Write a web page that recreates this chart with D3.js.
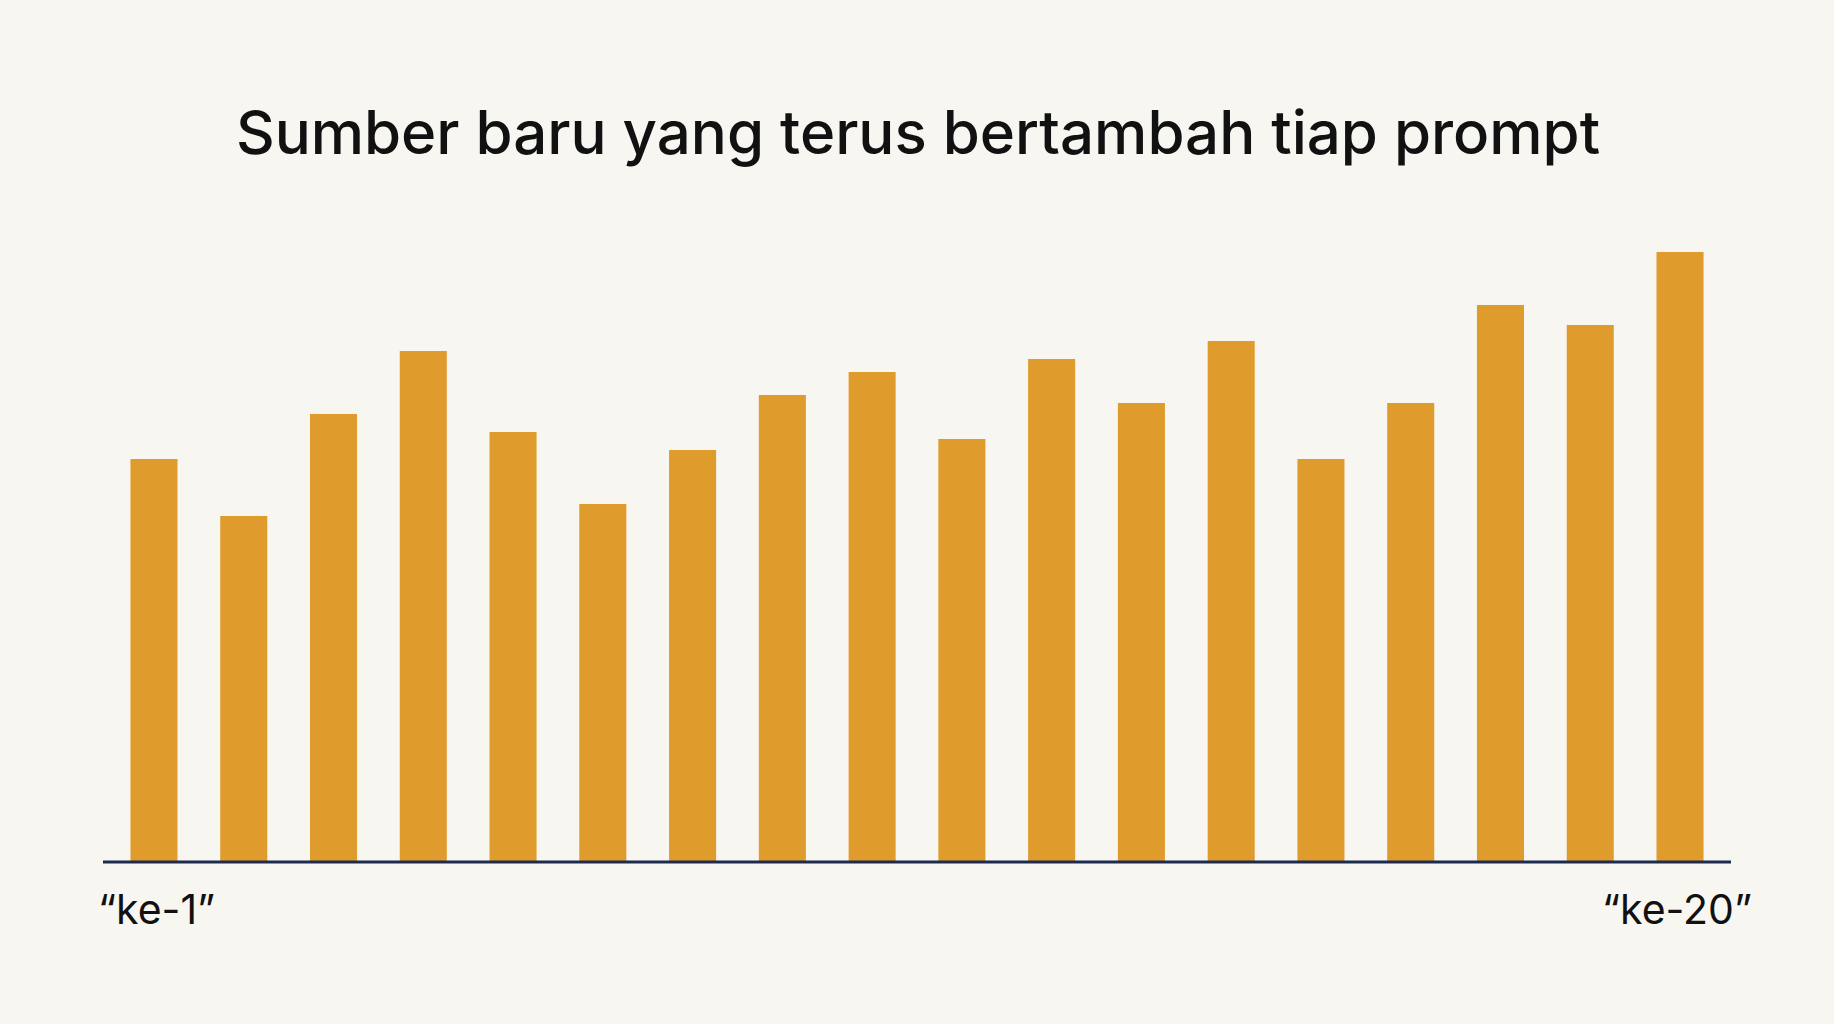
<!DOCTYPE html>
<html>
<head>
<meta charset="utf-8">
<script src="https://cdn.jsdelivr.net/npm/d3@7"></script>
<style>
  html, body { margin: 0; padding: 0; background: #f8f6f1; }
  svg { display: block; }
</style>
</head>
<body>
<div id="chart"></div>
<script>
// data (arbitrary units, no y axis shown)
const prompts = d3.range(1, 19).map(d => "ke-" + d);
const newSources = [40.3, 34.6, 44.8, 51.1, 43.0, 35.8, 41.2, 46.7, 49.0, 42.3,
                    50.3, 45.9, 52.1, 40.3, 45.9, 55.7, 53.7, 61.0];
const endLabels = ["\u201cke-1\u201d", "\u201cke-20\u201d"];
const title = "Sumber baru yang terus bertambah tiap prompt";

const width = 1834, height = 1024;
const margin = {left: 103, right: 103, top: 252, bottom: 162};

const svg = d3.select("#chart")
  .append("svg")
    .attr("width", width)
    .attr("height", height);

svg.append("rect")
  .attr("width", width)
  .attr("height", height)
  .attr("fill", "#f8f6f1");

// title
svg.append("text")
  .attr("x", 918)
  .attr("y", 154)
  .attr("text-anchor", "middle")
  .style("font-family", "Inter, 'DejaVu Sans', sans-serif")
  .style("font-size", "60px")
  .style("font-weight", 500)
  .style("fill", "#111")
  .text(title);

// scales
const x = d3.scaleBand()
  .domain(prompts)
  .range([margin.left, width - margin.right])
  .paddingInner(0.476)
  .paddingOuter(0.306);

const y = d3.scaleLinear()
  .domain([0, d3.max(newSources)])
  .range([height - margin.bottom, margin.top]);

// bars
svg.selectAll("rect.bar")
  .data(newSources)
  .join("rect")
    .attr("class", "bar")
    .attr("x", (d, i) => x(prompts[i]))
    .attr("y", d => y(d))
    .attr("width", x.bandwidth())
    .attr("height", d => y(0) - y(d))
    .attr("fill", "#e09b2d");

// baseline
svg.append("line")
  .attr("x1", margin.left)
  .attr("x2", width - margin.right)
  .attr("y1", y(0))
  .attr("y2", y(0))
  .attr("stroke", "#1d2b4f")
  .attr("stroke-width", 3);

// end labels
svg.selectAll("text.end")
  .data(endLabels)
  .join("text")
    .attr("class", "end")
    .attr("x", (d, i) => i === 0 ? 98 : 1752)
    .attr("y", 924)
    .attr("text-anchor", (d, i) => i === 0 ? "start" : "end")
    .style("font-family", "Inter, 'DejaVu Sans', sans-serif")
    .style("font-size", "41px")
    .style("fill", "#111")
    .text(d => d);
</script>
</body>
</html>
